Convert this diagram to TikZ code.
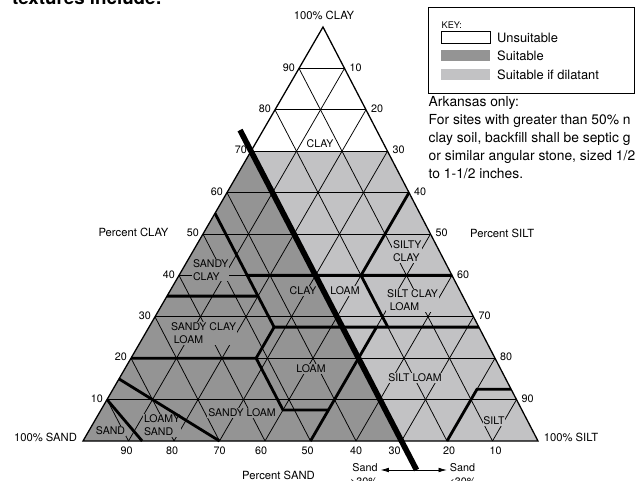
\documentclass[tikz,border=0pt]{standalone}
\usepackage{fontspec}
\setmainfont{TeX Gyre Heros}
\usetikzlibrary{arrows.meta,calc,positioning}
\definecolor{suit}{RGB}{148,148,148}
\definecolor{dilat}{RGB}{194,194,196}
\newcommand{\tern}[4]{\coordinate (#1) at (barycentric cs:sand=#2,silt=#3,clay=#4);}
\begin{document}
\begin{tikzpicture}[x=0.03cm,y=-0.03cm,
  grid/.style={line width=0.65pt},
  bound/.style={line width=2.4pt},
  divider/.style={line width=4.8pt},
  lbl/.style={font=\fontsize{9}{11.3}\selectfont,inner sep=0.7pt,align=left},
  tick/.style={font=\fontsize{9.2}{11}\selectfont,inner sep=0pt},
  axis/.style={font=\fontsize{9.6}{11.5}\selectfont,inner sep=0pt},
  keytxt/.style={font=\fontsize{11}{13}\selectfont,inner sep=0pt,anchor=west},
  note/.style={font=\fontsize{11.8}{15}\selectfont,inner sep=0pt,anchor=base west},
  swatch/.style={minimum width=41.7pt,minimum height=10.2pt,inner sep=0pt,outer sep=0pt},
  >={Latex[length=7pt,width=4pt]}]
\useasboundingbox (0,0) rectangle (637,481);
\coordinate (sand) at (83,441);
\coordinate (silt) at (538,441);
\coordinate (clay) at (323,27);

\fill[dilat] (sand) -- (silt) -- (clay) -- cycle;
\fill[white] (barycentric cs:sand=.3,clay=.7) -- (barycentric cs:silt=.3,clay=.7) -- (clay) -- cycle;
\fill[suit] (sand) -- (barycentric cs:sand=.3,clay=.7) -- (barycentric cs:sand=.3,silt=.7) -- cycle;

\foreach \i in {1,...,9}{
  \pgfmathsetmacro\wa{\i/10}
  \pgfmathsetmacro\wb{1-\i/10}
  \draw[grid] (barycentric cs:sand=\wb,clay=\wa) -- (barycentric cs:silt=\wb,clay=\wa);
  \draw[grid] (barycentric cs:silt=\wa,sand=\wb) -- (barycentric cs:silt=\wa,clay=\wb);
  \draw[grid] (barycentric cs:sand=\wa,silt=\wb) -- (barycentric cs:sand=\wa,clay=\wb);
}

\foreach \n in {10,20,...,90}{
  \pgfmathsetmacro\wa{\n/100}
  \pgfmathsetmacro\wb{1-\n/100}
  \node[tick,anchor=east] (cl\n) at ($(barycentric cs:sand=\wb,clay=\wa)+(-4,-1)$) {\n};
  \node[tick,anchor=west] (si\n) at ($(barycentric cs:silt=\wa,clay=\wb)+(5,-1)$) {\n};
}
\foreach \n/\dx in {10/3,20/2,30/-7,40/0,50/-3,60/-4,70/0,80/-2,90/-2}{
  \pgfmathsetmacro\wa{\n/100}
  \pgfmathsetmacro\wb{1-\n/100}
  \node[tick] (sa\n) at ($(barycentric cs:sand=\wa,silt=\wb)+(\dx,10)$) {\n};
}

\node[lbl,fill=white] (clayhi) at (320,144) {CLAY};
\node[lbl,fill=dilat,anchor=west] (siltyclay) at (392,251.5) {SILTY\\CLAY};
\node[lbl,fill=dilat,anchor=west] (siltclayloam) at (386,300.5) {SILT CLAY\\\hspace{2.5pt}LOAM};
\node[lbl,fill=suit,anchor=west] (sandyclay) at (192,270) {SANDY\\CLAY};
\node[lbl,fill=suit] (claylo) at (303,291) {CLAY};
\node[lbl,fill=dilat] (loamcl) at (345,291) {LOAM};
\node[lbl,fill=suit,anchor=west] (sandyclayloam) at (170,333.5) {SANDY CLAY\\\hspace{2.5pt}LOAM};
\node[lbl,fill=suit] (loam) at (311,369) {LOAM};
\node[lbl,fill=dilat] (siltloam) at (415,378) {SILT LOAM};
\node[lbl,fill=suit] (sandyloam) at (242,413) {SANDY LOAM};
\node[lbl,fill=suit,anchor=west] (loamysand) at (143,425.5) {LOAMY\\SAND};
\node[lbl,fill=suit] (sandlbl) at (110.5,431) {SAND};
\node[lbl,fill=dilat] (siltlbl) at (494,421) {SILT};

\tern{sa90}{.9}{0}{.1}
\tern{sa87}{.87}{.13}{0}
\tern{ls15}{.85}{0}{.15}
\tern{ls70}{.7}{.3}{0}
\tern{scl20}{.8}{0}{.2}
\tern{j1}{.525}{.275}{.2}
\tern{j2}{.45}{.275}{.275}
\tern{j3}{.525}{.4}{.075}
\tern{j4}{.425}{.5}{.075}
\tern{j5}{.5}{.5}{0}
\tern{j6}{.225}{.5}{.275}
\tern{j7}{0}{.725}{.275}
\tern{j8}{.45}{0}{.55}
\tern{j9}{.65}{0}{.35}
\tern{j10}{.45}{.2}{.35}
\tern{j11}{.45}{.15}{.4}
\tern{j12}{0}{.6}{.4}
\tern{j13}{.2}{.4}{.4}
\tern{j14}{0}{.4}{.6}
\tern{j15}{.2}{.525}{.275}
\tern{j16}{.2}{.8}{0}
\tern{j17}{.075}{.8}{.125}
\tern{j18}{0}{.875}{.125}
\draw[bound] (sa90) -- (sa87);
\draw[bound] (ls15) -- (ls70);
\draw[bound] (scl20) -- (j1) -- (j3) -- (j4);
\draw[bound] (j1) -- (j2) -- (j7);
\draw[bound] (j5) -- (j6);
\draw[bound] (j8) -- (j2);
\draw[bound] (j9) -- (j10);
\draw[bound] (j11) -- (j12);
\draw[bound] (j14) -- (j13) -- (j15);
\draw[bound] (j16) -- (j17) -- (j18);
\draw[line width=1.1pt] (sand) -- (silt) -- (clay) -- cycle;

\node[axis] (clay100) at (324,15) {100\% CLAY};
\node[axis] (sand100) at (45.5,437) {100\% SAND};
\node[axis] (silt100) at (571,437) {100\% SILT};
\node[axis] (pclay) at (133.5,232) {Percent CLAY};
\node[axis,anchor=west] (psilt) at (470,233) {Percent SILT};
\node[axis] (psand) at (278.5,475.5) {Percent SAND};

\tern{divtop}{.3}{-.051}{.751}
\tern{split}{.3}{.77}{-.07}
\node[tick,inner sep=2.5pt] (sandmore) at (365,467.5) {Sand};
\node[tick,inner sep=2.5pt] (sandless) at (462.5,467.5) {Sand};
\node[tick] (more) at (364,482) {>30\%};
\node[tick] (less) at (462.5,482) {<30\%};
\draw[->,line width=0.6pt] (split) -- (split -| sandmore.east);
\draw[->,line width=0.6pt] (split) -- (split -| sandless.west);
\draw[divider] (divtop) -- (split);

\node[anchor=base west,inner sep=0pt,font=\bfseries\fontsize{16}{19}\selectfont] (head) at (12,4.5) {textures include:};

\draw[line width=0.8pt] (428,7) rectangle (634,93);
\node[keytxt,font=\fontsize{7.8}{9}\selectfont] (keyhd) at (441.5,25) {KEY:};
\node[swatch,draw,fill=white,line width=0.7pt] (sw1) at (465.5,37.5) {};
\node[swatch,fill=suit] (sw2) at (465.5,55.5) {};
\node[swatch,fill=dilat] (sw3) at (465.5,74.5) {};
\node[keytxt,right=6pt of sw1] (k1) {Unsuitable};
\node[keytxt,right=6pt of sw2] (k2) {Suitable};
\node[keytxt,right=6pt of sw3] (k3) {Suitable if dilatant};

\node[note] (ark) at (428.5,106.5) {Arkansas only:};
\node[note] (nl1) at (428.5,124.5) {For sites with greater than 50\% n};
\node[note] (nl2) at (428.5,142.5) {clay soil, backfill shall be septic g};
\node[note] (nl3) at (428.5,160.5) {or similar angular stone, sized 1/2};
\node[note] (nl4) at (428.5,178.5) {to 1-1/2 inches.};
\end{tikzpicture}
\end{document}
